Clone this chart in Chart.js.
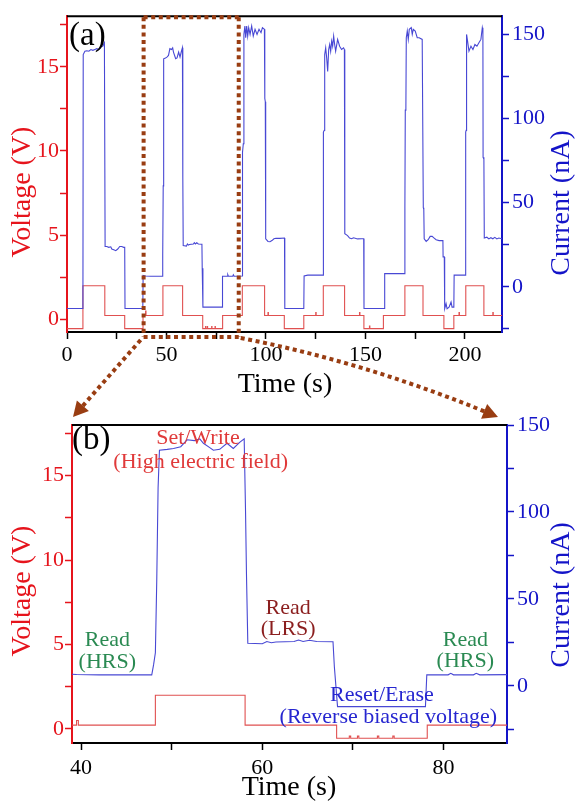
<!DOCTYPE html>
<html><head><meta charset="utf-8">
<script src="https://cdn.jsdelivr.net/npm/chart.js@4.4.1/dist/chart.umd.min.js"></script>
<style>
html,body{margin:0;padding:0;background:#fff;}
#wrap{position:relative;width:579px;height:809px;overflow:hidden;}
canvas{position:absolute;left:0;}
</style></head><body>
<div id="wrap">
<canvas id="ca" width="579" height="400" style="top:0"></canvas>
<canvas id="cb" width="579" height="409" style="top:400px"></canvas>
<canvas id="ov" width="579" height="809" style="top:0;pointer-events:none"></canvas>
</div>
<script>
// ---------- data ----------
const timeV = [0, 8, 19, 29, 38.2, 39.5, 39.7, 48.2, 58.1, 68.2, 69.6, 69.75, 70.5, 70.65, 72.7, 72.85, 74.4, 74.55, 78.2,
  88.1, 99.3, 101, 101.2, 109.2, 119, 125, 125.2, 128.8, 139.5, 147, 147.2, 149.2, 152, 152.2, 159, 169.8, 178.9, 189.4,
  194.4, 197, 197.2, 200.4, 209.5, 214, 214.2, 219];
const voltageV = [-0.55, 2.0, 0.23, -0.55, 0.23, 0.5, 0.23, 2.0, 0.23, -0.55, -0.42, -0.55, -0.42, -0.55, -0.42, -0.55, -0.42, -0.55, 0.23,
  2.0, 0.23, 0.4, 0.23, -0.55, 0.23, 0.4, 0.23, 2.0, 0.23, 0.4, 0.23, -0.55, -0.4, -0.55, 0.23, 2.0, 0.23, -0.55,
  0.23, 0.4, 0.23, 2.0, 0.23, 0.4, 0.23, 0.23];

const timeI = [0, 8.0, 8.15, 9, 10, 11, 12, 13, 14, 15, 16, 17, 18, 18.8, 19.0, 19.15, 20, 21, 22, 22.5, 23.5, 24.5, 25.5, 26.5, 27.5, 28.5, 29.0,
  29.15, 38.1, 38.25, 39.5, 42, 45, 47.8, 48.0, 48.2, 48.35, 48.5, 48.65, 49.5, 50.2, 51.0, 51.7, 52.5, 53.1, 53.5, 54.2, 54.6, 55.3, 56.1,
  56.8, 57.5, 58.0, 58.15, 58.25, 58.4, 60.0, 60.5, 61.0, 61.5, 63.5, 64.0, 64.5, 65.2, 66.0, 67.8, 67.95, 68.3, 78.0, 78.15, 80.5, 80.8,
  81.1, 83.3, 83.6, 84.0, 88.0, 88.2, 88.6, 88.9, 89.4, 89.8, 90.3, 90.8, 91.3, 92.0, 92.8, 93.6, 94.5, 95.5, 96.5, 97.5, 98.2, 99.2,
  99.4, 99.65, 99.85, 101, 102, 103, 104, 105, 107, 109.3, 109.45, 119.0, 119.15, 121, 124, 128.7, 128.85, 129.3, 129.5, 130, 130.5,
  131, 131.5, 132, 132.5, 133, 133.5, 134, 134.5, 135, 136, 137, 138, 139, 139.4, 139.6, 141, 142, 143, 144, 146, 148, 149.1, 149.25,
  159.5, 159.65, 163, 169.7, 169.8, 170.0, 170.3, 170.5, 171, 171.5, 172, 173, 173.5, 174, 175, 176, 177, 178.5, 178.9, 179.05, 179.3,
  179.5, 180.5, 181.5, 182.5, 183.5, 184.5, 185.5, 187, 188.9, 189.0, 189.6, 189.8, 190.5, 191, 192, 193, 193.5, 194.4, 194.55, 200.2,
  200.35, 200.6, 200.8, 201.3, 202, 203, 204, 205, 206, 207, 208, 208.7, 209.0, 209.1, 209.5, 209.7, 211, 212, 213, 214, 215, 216, 217, 219];
const currentI = [-12.8, -12.8, 138, 140, 140.3, 140, 141, 140.5, 141, 141.5, 141, 142.5, 143, 145, 145, 24, 24, 23.5, 23.8, 22.5, 22, 21.5, 22.5, 24, 24, 23.5, 23.5,
  -12.8, -12.8, 6.8, 6.5, 6.3, 6.3, 6.3, 12, 19, 60, 114, 135.5, 136, 136.5, 137.5, 141.5, 141, 142, 139.5, 137, 135.5, 136, 139.5,
  136.5, 140, 142, 100, 64.8, 24.5, 24.2, 25.5, 24.8, 25.2, 25.5, 26.3, 25.5, 26.2, 25.5, 25.3, 11, -12, -12, 6.3, 6.3, 7.2,
  6.3, 6.3, 7.2, 6.3, 6.5, 80, 85, 150, 155, 148, 155, 149, 154, 150, 155, 149, 153, 150, 153, 151, 154, 153,
  112, 110, 28.6, 27, 26.8, 27.5, 28.6, 28.9, 28.8, 29, -12.8, -12.8, 6.5, 7, 7, 7, 92, 93, 138, 142, 136,
  128, 141, 144, 140, 146, 143, 149, 144, 140, 147, 143, 141, 142, 141, 31.6, 30.5, 29, 28.6, 29.2, 28.5, 28.6, 28.6, -12.8,
  -12.8, 7.9, 7.9, 7.9, 47, 105, 106, 148, 152, 147, 153, 154, 150, 153, 152, 148, 148, 147, 147, 47, 46,
  28.6, 27, 28, 30, 30, 29, 28, 27.5, 27.5, 17.8, 17.8, -13, -10, -13, -12, -9, -12, -12, 7, 7,
  92, 93, 150, 146, 140, 143, 141, 144, 143, 145, 147, 154, 152, 77, 76, 29, 29.5, 28.5, 29.2, 28.6, 29.4, 28.5, 29, 28.5];

// tick values / labels
const voltageMajor = [0, 5, 10, 15];
const voltageMinor = [2.5, 7.5, 12.5, 17.5];
const currentMajor = [0, 50, 100, 150];
const currentMinor = [-25, 25, 75, 125];
const timeMajorA = [0, 50, 100, 150, 200];
const timeMinorA = [25, 75, 125, 175];
const timeMajorB = [40, 60, 80];
const timeMinorB = [50, 70];
const zoomWindow = [38.5, 86.3];

const annotationsB = [
  {text: 'Set/Write', t: 52.9, i: 142.5, color: '#e03a3a'},
  {text: '(High electric field)', t: 53.2, i: 128.7, color: '#e03a3a'},
  {text: 'Read', t: 42.9, i: 26.4, color: '#2a8a52'},
  {text: '(HRS)', t: 42.9, i: 13.8, color: '#2a8a52'},
  {text: 'Read', t: 62.85, i: 44.8, color: '#8b1e1e'},
  {text: '(LRS)', t: 62.85, i: 32.8, color: '#8b1e1e'},
  {text: 'Reset/Erase', t: 73.2, i: -5.7, color: '#2626d0'},
  {text: '(Reverse biased voltage)', t: 73.9, i: -17.8, color: '#2626d0'},
  {text: 'Read', t: 82.4, i: 26.4, color: '#2a8a52'},
  {text: '(HRS)', t: 82.4, i: 14.4, color: '#2a8a52'}
];

// ---------- styles ----------
const SERIF = "'Liberation Serif', 'DejaVu Serif', serif";
const RED = '#e6141c', BLUE = '#1414c8', LINE_RED = '#e05050', LINE_BLUE = '#4848d4', BROWN = '#993d12';
Chart.defaults.font.family = SERIF;
Chart.defaults.animation = false;

const vPts = timeV.map((t, k) => ({x: t, y: voltageV[k]}));
const iPts = timeI.map((t, k) => ({x: t, y: currentI[k]}));

function tickSet(major, minor) {
  return (scale) => { scale.ticks = major.concat(minor).sort((a, b) => a - b).map(v => ({value: v})); };
}
function labelOf(major) { return (v) => major.includes(v) ? String(v) : ''; }

const deco = {
  id: 'deco',
  afterDraw(chart, args, o) {
    const ctx = chart.ctx, a = chart.chartArea;
    ctx.save();
    ctx.strokeStyle = '#000'; ctx.lineWidth = 2;
    ctx.beginPath(); ctx.moveTo(a.left, a.top); ctx.lineTo(a.right, a.top); ctx.stroke();
    ctx.fillStyle = '#000'; ctx.font = '33px ' + SERIF; ctx.textAlign = 'left'; ctx.textBaseline = 'middle';
    ctx.fillText(o.label, o.labelPos[0], o.labelPos[1]);
    // axis titles
    ctx.font = '28px ' + SERIF; ctx.textAlign = 'center';
    ctx.fillText('Time (s)', o.timeT[0], o.timeT[1]);
    ctx.save(); ctx.translate(o.voltT[0], o.voltT[1]); ctx.rotate(-Math.PI / 2);
    ctx.fillStyle = RED; ctx.fillText('Voltage (V)', 0, 0); ctx.restore();
    ctx.save(); ctx.translate(o.curT[0], o.curT[1]); ctx.rotate(-Math.PI / 2);
    ctx.fillStyle = BLUE; ctx.fillText('Current (nA)', 0, 0); ctx.restore();
    if (o.notes) {
      ctx.font = '22px ' + SERIF;
      o.notes.forEach(n => {
        ctx.fillStyle = n.color;
        ctx.fillText(n.text, chart.scales.x.getPixelForValue(n.t), chart.scales.yI.getPixelForValue(n.i));
      });
    }
    ctx.restore();
  }
};

function makeChart(id, cfg) {
  return new Chart(document.getElementById(id), {
    type: 'line',
    data: {datasets: [
      {data: iPts, yAxisID: 'yI', borderColor: LINE_BLUE, borderWidth: 1.1, pointRadius: 0, tension: 0},
      {data: vPts, yAxisID: 'yV', borderColor: LINE_RED, borderWidth: 1.1, pointRadius: 0, stepped: true}
    ]},
    plugins: [deco],
    options: {
      responsive: false, animation: false, parsing: false,
      layout: {padding: {top: cfg.padTop, left: 0, right: 0, bottom: 0}},
      plugins: {legend: {display: false}, tooltip: {enabled: false}, deco: cfg.deco},
      scales: {
        x: {type: 'linear', position: 'bottom', min: cfg.xMin, max: cfg.xMax,
          afterBuildTicks: tickSet(cfg.xMajor, cfg.xMinor),
          afterFit: s => { s.height = cfg.xH; },
          grid: {drawOnChartArea: false, tickLength: 7, tickColor: '#000', tickWidth: 1.5},
          border: {color: '#000', width: 2},
          ticks: {color: '#000', font: {size: 22}, padding: cfg.xPad, maxRotation: 0, autoSkip: false, callback: labelOf(cfg.xMajor)}},
        yV: {type: 'linear', position: 'left', min: cfg.vMin, max: cfg.vMax,
          afterBuildTicks: tickSet(voltageMajor, voltageMinor),
          afterFit: s => { s.width = cfg.lW; },
          grid: {drawOnChartArea: false, tickLength: 7, tickColor: RED, tickWidth: 1.5},
          border: {color: RED, width: 2},
          ticks: {color: RED, font: {size: 22}, padding: 1, autoSkip: false, callback: labelOf(voltageMajor)}},
        yI: {type: 'linear', position: 'right', min: cfg.iMin, max: cfg.iMax,
          afterBuildTicks: tickSet(currentMajor, currentMinor),
          afterFit: s => { s.width = cfg.rW; },
          grid: {drawOnChartArea: false, tickLength: 7, tickColor: BLUE, tickWidth: 1.5},
          border: {color: BLUE, width: 2},
          ticks: {color: BLUE, font: {size: 22}, padding: 3, autoSkip: false, callback: labelOf(currentMajor)}}
      }
    }
  });
}

const chartA = makeChart('ca', {
  padTop: 15, xMin: 0, xMax: 218.6, xMajor: timeMajorA, xMinor: timeMinorA, xH: 68, xPad: 3,
  vMin: -0.75, vMax: 18.0, iMin: -26.8, iMax: 160.8, lW: 67, rW: 77,
  deco: {label: '(a)', labelPos: [69, 36], timeT: [285, 385], voltT: [23, 192], curT: [562, 203]}
});
const chartB = makeChart('cb', {
  padTop: 25, xMin: 39.0, xMax: 87.0, xMajor: timeMajorB, xMinor: timeMinorB, xH: 66, xPad: 5,
  vMin: -0.83, vMax: 18.0, iMin: -32.9, iMax: 150, lW: 72, rW: 72,
  deco: {label: '(b)', labelPos: [72, 40], timeT: [289, 388], voltT: [23, 191], curT: [562, 195], notes: annotationsB}
});

// ---------- zoom box and arrows ----------
(function () {
  const c = document.getElementById('ov').getContext('2d');
  const xa = chartA.scales.x, A = chartA.chartArea, B = chartB.chartArea, off = 400;
  const x1 = xa.getPixelForValue(zoomWindow[0]), x2 = xa.getPixelForValue(zoomWindow[1]);
  const y1 = A.top + 1, y2 = A.bottom + 5;
  c.strokeStyle = BROWN; c.fillStyle = BROWN; c.lineWidth = 4; c.lineCap = 'butt';
  c.setLineDash([4, 3.6]);
  function seg(ax, ay, bx, by) { c.beginPath(); c.moveTo(ax, ay); c.lineTo(bx, by); c.stroke(); }
  seg(x1, y1, x2, y1); seg(x1, y2, x2, y2); seg(x1, y1, x1, y2); seg(x2, y1, x2, y2);
  function head(tx, ty, dx, dy) {
    const L = Math.hypot(dx, dy); dx /= L; dy /= L;
    const len = 15, w = 8;
    c.setLineDash([]);
    c.beginPath(); c.moveTo(tx, ty);
    c.lineTo(tx - dx * len - dy * w, ty - dy * len + dx * w);
    c.lineTo(tx - dx * len + dy * w, ty - dy * len - dx * w);
    c.closePath(); c.fill();
    c.setLineDash([4, 3.6]);
  }
  // left arrow
  const ls = [x1 - 3, y2 + 3], lt = [B.left + 1, B.top + off - 8];
  let dx = lt[0] - ls[0], dy = lt[1] - ls[1], L = Math.hypot(dx, dy);
  seg(ls[0], ls[1], lt[0] - dx / L * 13, lt[1] - dy / L * 13);
  head(lt[0], lt[1], dx, dy);
  // right arrow (gently curved)
  const rs = [x2 + 2, y2 + 1], rt = [B.right - 9, B.top + off - 8], cp = [364, 362];
  dx = rt[0] - cp[0]; dy = rt[1] - cp[1]; L = Math.hypot(dx, dy);
  const rb = [rt[0] - dx / L * 13, rt[1] - dy / L * 13];
  c.beginPath(); c.moveTo(rs[0], rs[1]); c.quadraticCurveTo(cp[0], cp[1], rb[0], rb[1]); c.stroke();
  head(rt[0], rt[1], dx, dy);
})();
</script>
</body></html>
